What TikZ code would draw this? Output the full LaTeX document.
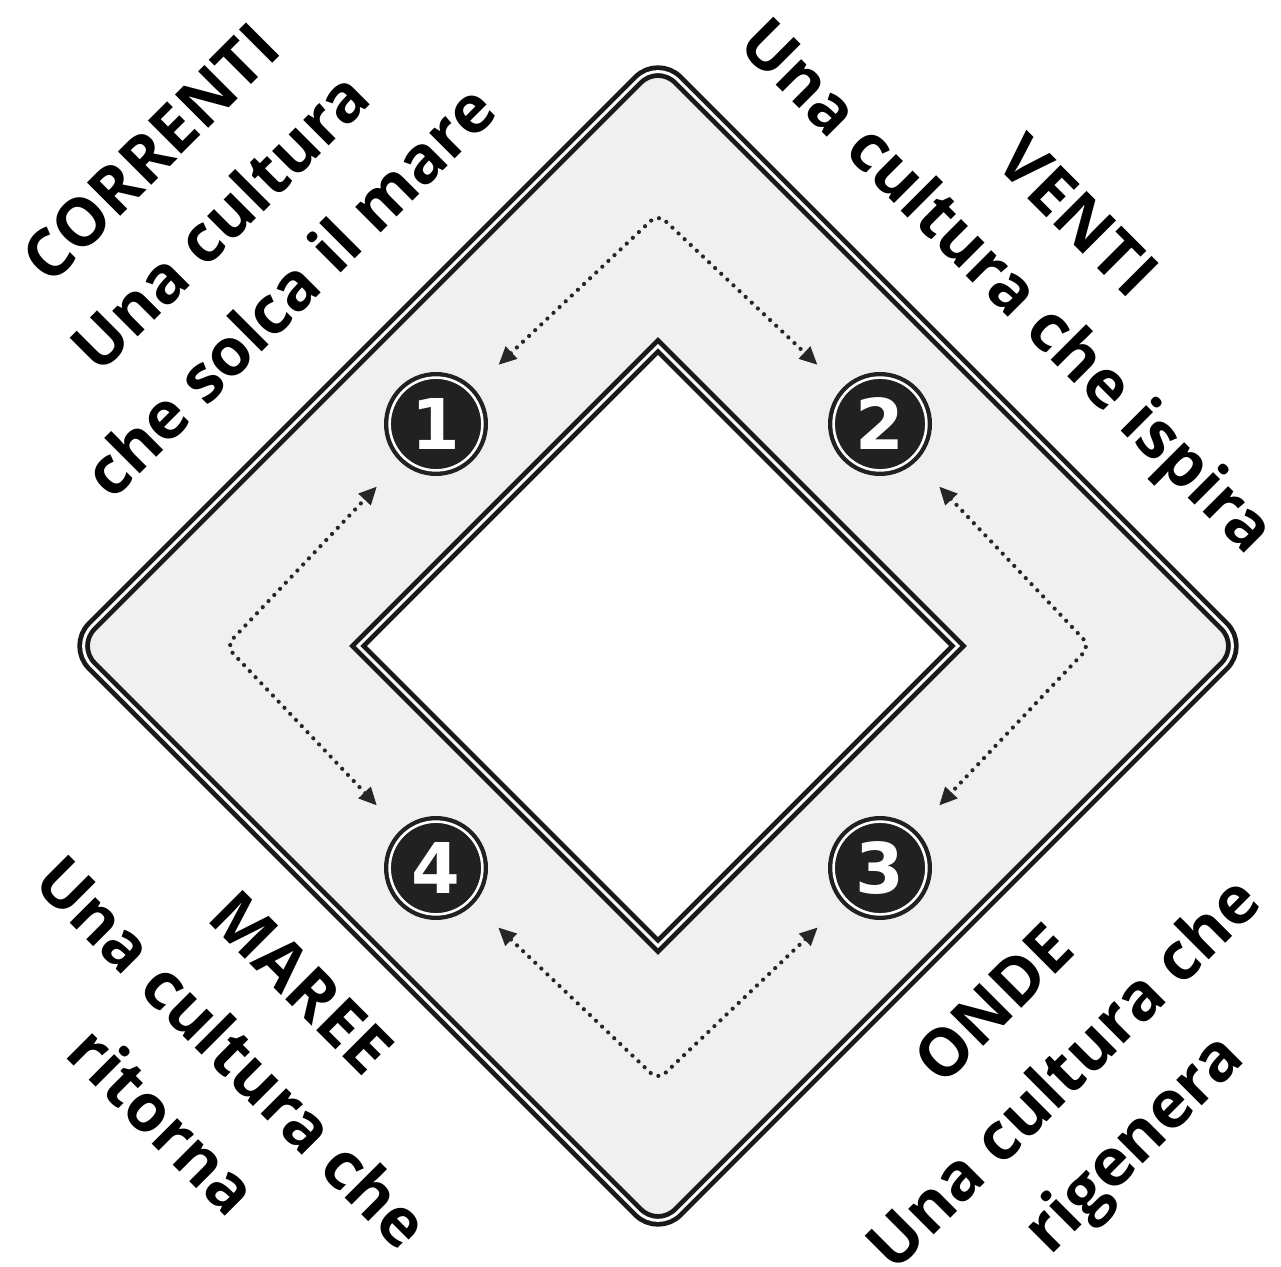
\documentclass[tikz,border=0pt]{standalone}
\usepackage{fontspec}
\setmainfont{Open Sans}
\newfontfamily\numfont{DejaVu Sans}
\usetikzlibrary{arrows.meta}
\begin{document}
\begin{tikzpicture}[x=0.5pt,y=-0.5pt,
  outerd/.style={draw=black!90, fill=black!6, line width=2.4pt, double=white, double distance=1.5pt, rounded corners=14pt},
  innerd/.style={draw=black!90, fill=white, line width=2.4pt, double=white, double distance=1.5pt, line join=miter},
  num/.style={circle, fill=black!87, minimum size=52pt, inner sep=0pt, outer sep=0pt, text=white,
    font=\numfont\bfseries\fontsize{35}{35}\selectfont,
    path picture={\draw[white, line width=1.3pt] (path picture bounding box.center) circle (23.2pt);}},
  lbl/.style={align=center, font=\bfseries\fontsize{33}{49}\selectfont, inner sep=0pt},
  dotarr/.style={draw=black!85, line width=2.1pt, dash pattern=on 0pt off 4.2pt, line cap=round,
    arrows={Triangle[length=9pt,width=8pt]-Triangle[length=9pt,width=8pt]},
    rounded corners=5pt, shorten <=17pt, shorten >=17pt}]
\clip (0,0) rectangle (1281,1267);
\fill[white] (0,0) rectangle (1281,1267);
% outer diamond
\draw[outerd] (658,60) -- (1244,646) -- (658,1232) -- (72,646) -- cycle;
% inner diamond
\draw[innerd] (658,346) -- (958,646) -- (658,946) -- (358,646) -- cycle;
% number circles
\node[num] (n1) at (436,424) {1};
\node[num] (n2) at (880,424) {2};
\node[num] (n3) at (880,868) {3};
\node[num] (n4) at (436,868) {4};
% corners of the dotted arrows
\coordinate (kt) at (658,214);
\coordinate (kr) at (1090,646);
\coordinate (kb) at (658,1080);
\coordinate (kl) at (226,646);
\draw[dotarr] (n1) -- (kt) -- (n2);
\draw[dotarr] (n2) -- (kr) -- (n3);
\draw[dotarr] (n3) -- (kb) -- (n4);
\draw[dotarr] (n4) -- (kl) -- (n1);
% labels
\node[lbl, rotate=45] (tl) at (220,222) {CORRENTI\\Una cultura\\che solca il mare};
\node[lbl, rotate=-45] (tr) at (1038,256) {VENTI\\Una cultura che ispira};
\node[lbl, rotate=-45] (bl) at (232,1052) {MAREE\\Una cultura che\\ritorna};
\node[lbl, rotate=45] (br) at (1068,1078) {ONDE\\Una cultura che\\rigenera};
\end{tikzpicture}
\end{document}
